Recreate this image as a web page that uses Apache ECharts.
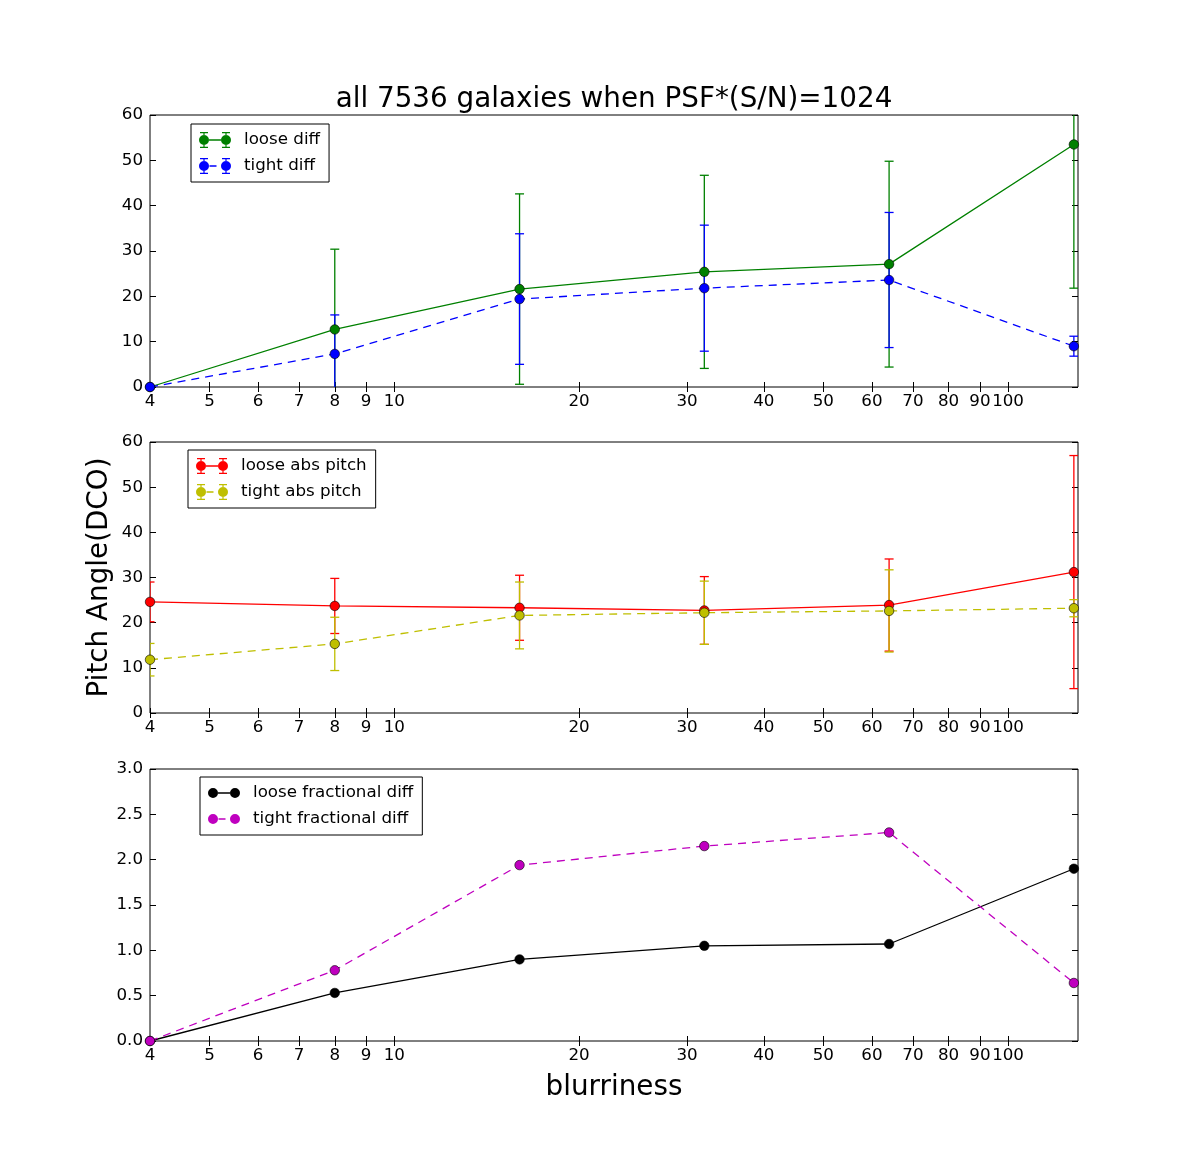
<!DOCTYPE html>
<html><head><meta charset="utf-8">
<script src="https://cdn.jsdelivr.net/npm/echarts@6/dist/echarts.min.js"></script>
<style>html,body{margin:0;padding:0;background:#fff}#c{width:1197px;height:1157px}</style>
</head><body><div id="c"></div>
<script>
// ---- data ----
const blurriness = [4, 8, 16, 32, 64, 128];
const xTickValues = [4, 5, 6, 7, 8, 9, 10, 20, 30, 40, 50, 60, 70, 80, 90, 100];

const looseDiff    = [0, 12.7, 21.6, 25.4, 27.1, 53.5];
const looseDiffErr = [0, 17.7, 21.0, 21.3, 22.7, 31.7];
const tightDiff    = [0, 7.3, 19.4, 21.8, 23.6, 9.0];
const tightDiffErr = [0, 8.6, 14.4, 13.9, 14.9, 2.2];

const looseAbs    = [24.6, 23.7, 23.3, 22.7, 23.9, 31.2];
const looseAbsErr = [4.4, 6.1, 7.2, 7.5, 10.2, 25.8];
const tightAbs    = [11.8, 15.3, 21.6, 22.2, 22.6, 23.2];
const tightAbsErr = [3.6, 5.9, 7.4, 7.0, 9.1, 1.9];

const looseFrac = [0, 0.53, 0.90, 1.05, 1.07, 1.90];
const tightFrac = [0, 0.78, 1.94, 2.15, 2.30, 0.64];

const titleText = 'all 7536 galaxies when PSF*(S/N)=1024';
const xLabel = 'blurriness';
const yLabel = 'Pitch Angle(DCO)';

// ---- styling ----
const FONT = 'DejaVu Sans';
const TICK_FS = 16.7;
const BIG_FS = 27.8;
const grids = [
  {left: 150, right: 119, top: 115, height: 272},
  {left: 150, right: 119, top: 442, height: 271},
  {left: 150, right: 119, top: 769, height: 272}
];
const yRanges = [
  {min: 0, max: 60, interval: 10, fmt: v => String(v)},
  {min: 0, max: 60, interval: 10, fmt: v => String(v)},
  {min: 0, max: 3, interval: 0.5, fmt: v => v.toFixed(1)}
];

function circ(cx, cy, r) { return `M${cx - r},${cy}a${r},${r} 0 1,1 ${2 * r},0a${r},${r} 0 1,1 ${-2 * r},0Z`; }
function rect(x, y, w, h) { return `M${x},${y}h${w}v${h}h${-w}Z`; }
function icon(dashed, err) {
  const h = err ? 16 : 10, cy = h / 2, r = 5;
  let p = circ(5, cy, r) + circ(27, cy, r);
  p += dashed ? rect(10.5, cy - 0.65, 7, 1.3) : rect(10, cy - 0.65, 12, 1.3);
  if (err) {
    for (const cx of [5, 27]) {
      p += rect(cx - 0.6, 0, 1.2, 16) + rect(cx - 4, 0, 8, 1.2) + rect(cx - 4, 14.8, 8, 1.2);
    }
  }
  return 'path://' + p;
}

const xAxes = [], yAxes = [];
grids.forEach((g, i) => {
  const base = {
    type: 'log', logBase: 2, gridIndex: i, min: 4, max: 130,
    axisLine: {show: false}, splitLine: {show: false}, minorTick: {show: false}, minorSplitLine: {show: false},
    axisTick: {show: true, inside: true, length: 5, lineStyle: {color: '#000', width: 1}, customValues: xTickValues}
  };
  xAxes.push(Object.assign({}, base, {
    position: 'bottom',
    axisLabel: {show: true, customValues: xTickValues, formatter: v => String(Math.round(v)),
      color: '#000', fontSize: TICK_FS, fontFamily: FONT, margin: 6},
    name: i === 2 ? xLabel : '', nameLocation: 'middle', nameGap: 33,
    nameTextStyle: {fontSize: BIG_FS, fontFamily: FONT, color: '#000'}
  }));
  xAxes.push(Object.assign({}, base, {position: 'top', axisLabel: {show: false}}));
  const yr = yRanges[i];
  const ybase = {
    type: 'value', gridIndex: i, min: yr.min, max: yr.max, interval: yr.interval,
    axisLine: {show: false}, splitLine: {show: false},
    axisTick: {show: true, inside: true, length: 6, lineStyle: {color: '#000', width: 1}}
  };
  yAxes.push(Object.assign({}, ybase, {
    position: 'left',
    axisLabel: {show: true, formatter: yr.fmt, color: '#000', fontSize: TICK_FS, fontFamily: FONT, margin: 7},
    name: i === 1 ? yLabel : '', nameLocation: 'middle', nameGap: 36, nameMoveOverlap: false,
    nameTextStyle: {fontSize: BIG_FS, fontFamily: FONT, color: '#000'}
  }));
  yAxes.push(Object.assign({}, ybase, {position: 'right', axisLabel: {show: false}}));
});

function errSeries(name, color, vals, errs, gi) {
  return {
    type: 'custom', name: name, xAxisIndex: 2 * gi, yAxisIndex: 2 * gi, clip: true, silent: true,
    data: blurriness.map((x, k) => [x, vals[k], errs[k]]),
    renderItem: function (params, api) {
      const x = api.value(0), y = api.value(1), e = api.value(2);
      if (!e) return null;
      const t = api.coord([x, y + e]), b = api.coord([x, y - e]);
      const cw = 4.5, st = {stroke: color, lineWidth: 1.3};
      return {type: 'group', children: [
        {type: 'line', shape: {x1: t[0], y1: t[1], x2: b[0], y2: b[1]}, style: st},
        {type: 'line', shape: {x1: t[0] - cw, y1: t[1], x2: t[0] + cw, y2: t[1]}, style: st},
        {type: 'line', shape: {x1: b[0] - cw, y1: b[1], x2: b[0] + cw, y2: b[1]}, style: st}
      ]};
    }
  };
}
function lineSeries(name, color, vals, dashed, gi) {
  return {
    type: 'line', name: name, xAxisIndex: 2 * gi, yAxisIndex: 2 * gi,
    data: blurriness.map((x, k) => [x, vals[k]]),
    symbol: 'circle', symbolSize: 9.5, showAllSymbol: true,
    itemStyle: {color: color, borderColor: '#000', borderWidth: 0.6},
    lineStyle: {color: color, width: 1.3, type: dashed ? [8, 6] : 'solid'},
    emphasis: {disabled: true}
  };
}

const C = {g: '#008000', b: '#0000ff', r: '#ff0000', y: '#bfbf00', k: '#000000', m: '#bf00bf'};

const series = [
  errSeries('loose diff err', C.g, looseDiff, looseDiffErr, 0),
  lineSeries('loose diff', C.g, looseDiff, false, 0),
  errSeries('tight diff err', C.b, tightDiff, tightDiffErr, 0),
  lineSeries('tight diff', C.b, tightDiff, true, 0),
  errSeries('loose abs pitch err', C.r, looseAbs, looseAbsErr, 1),
  lineSeries('loose abs pitch', C.r, looseAbs, false, 1),
  errSeries('tight abs pitch err', C.y, tightAbs, tightAbsErr, 1),
  lineSeries('tight abs pitch', C.y, tightAbs, true, 1),
  lineSeries('loose fractional diff', C.k, looseFrac, false, 2),
  lineSeries('tight fractional diff', C.m, tightFrac, true, 2)
];

function legend(names, left, top, err) {
  return {
    orient: 'vertical', left: left, top: top,
    data: [
      {name: names[0], icon: icon(false, err)},
      {name: names[1], icon: icon(true, err)}
    ],
    itemWidth: 32, itemHeight: err ? 16 : 10, itemGap: 8,
    backgroundColor: '#fff', borderColor: '#000', borderWidth: 1, borderRadius: 0,
    padding: [7, 9, 7, 8], selectedMode: false,
    itemStyle: {borderWidth: 0},
    textStyle: {fontSize: TICK_FS, fontFamily: FONT, color: '#000', lineHeight: 18, padding: [0, 0, 0, 8]}
  };
}

const option = {
  animation: false,
  backgroundColor: '#fff',
  textStyle: {fontFamily: FONT},
  grid: grids.map(g => Object.assign({show: true, borderColor: '#000', borderWidth: 1, backgroundColor: '#fff'}, g)),
  xAxis: xAxes,
  yAxis: yAxes,
  legend: [
    legend(['loose diff', 'tight diff'], 191, 124, true),
    legend(['loose abs pitch', 'tight abs pitch'], 188, 450, true),
    legend(['loose fractional diff', 'tight fractional diff'], 200, 777, false)
  ],
  graphic: [{
    type: 'text', x: 614, y: 100,
    style: {text: titleText, fontSize: BIG_FS, fontFamily: FONT, fill: '#000', textAlign: 'center', textVerticalAlign: 'middle'}
  }],
  series: series
};

const chart = echarts.init(document.getElementById('c'), null, {renderer: 'canvas'});
chart.setOption(option);
</script>
</body></html>
